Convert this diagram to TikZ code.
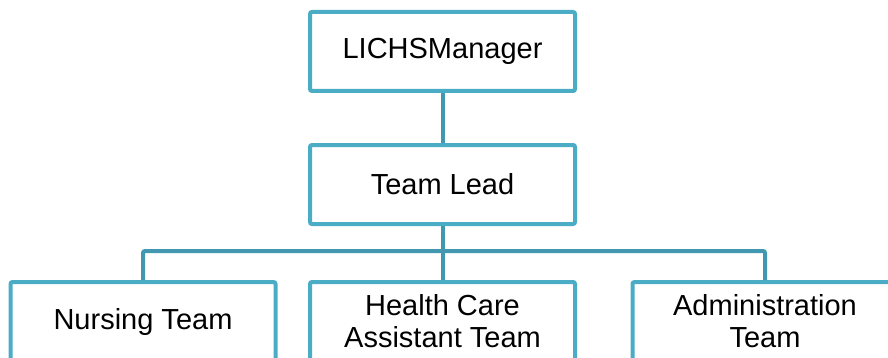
\documentclass[tikz,border=0pt]{standalone}
\usepackage{fontspec}
\setmainfont{Liberation Sans}
\usetikzlibrary{positioning}
\definecolor{unitline}{RGB}{75,172,198}
\definecolor{linkline}{RGB}{66,152,176}

\begin{document}
\begin{tikzpicture}[
  x=0.5pt, y=-0.5pt, font=\fontsize{14.5}{16}\selectfont, node distance=25pt and 15.25pt,
  unit/.style={draw=unitline, line width=2pt, rounded corners=1pt, fill=white, minimum width=132.5pt, minimum height=39.5pt, align=center, inner sep=0pt},
  link/.style={draw=linkline, line width=2pt}]
\clip (0,0) rectangle (888,358);

% ---- the chain of command ----
\node[unit] (mgr) at (442.5,51.5) {LICHSManager};
\node[unit, below=of mgr] (lead) {Team Lead};

% ---- the teams ----
\node[unit, below=27pt of lead] (hca) {Health Care\\Assistant Team};
\node[unit, left=of hca] (nurse) {Nursing Team};
\node[unit, right=26.75pt of hca] (admin) {Administration\\Team};

% ---- links ----
\draw[link] (mgr) -- (lead);
\draw[link] (lead.south) -- (hca.north);
\draw[link, rounded corners=1pt] (nurse.north) -- ++(0,-29) -| (admin.north);
\end{tikzpicture}
\end{document}
